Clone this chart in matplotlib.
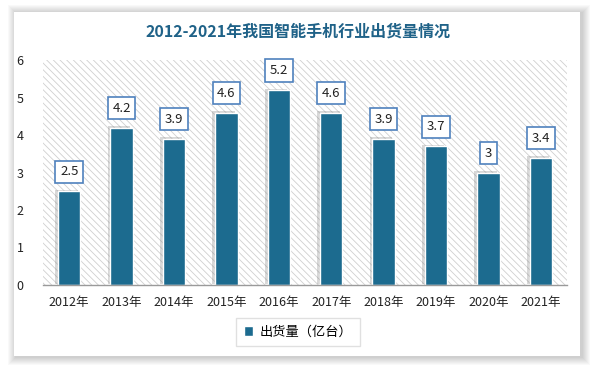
import matplotlib.pyplot as plt
from matplotlib.patches import Rectangle
import matplotlib.patheffects as pe

years = ['2012年', '2013年', '2014年', '2015年', '2016年',
         '2017年', '2018年', '2019年', '2020年', '2021年']
shipments = [2.5, 4.2, 3.9, 4.6, 5.2, 4.6, 3.9, 3.7, 3, 3.4]
labels = ['2.5', '4.2', '3.9', '4.6', '5.2', '4.6', '3.9', '3.7', '3', '3.4']
yticks = [0, 1, 2, 3, 4, 5, 6]

plt.rcParams['font.family'] = ['Noto Sans CJK SC', 'DejaVu Sans']
plt.rcParams['hatch.linewidth'] = 0.6

W, H = 593, 367
fig = plt.figure(figsize=(W / 100, H / 100), dpi=100)
fig.patch.set_facecolor('white')

# card with soft shadow
cx0, cy0, cx1, cy1 = 14, 12, 580, 356
for i in range(8, 0, -1):
    fig.patches.append(Rectangle(((cx0 - i + 2) / W, 1 - (cy1 + i + 1) / H),
                                 (cx1 - cx0 + 2 * i) / W, (cy1 - cy0 + 2 * i) / H,
                                 transform=fig.transFigure, facecolor='#000000',
                                 alpha=0.025, edgecolor='none', zorder=0))
fig.patches.append(Rectangle((cx0 / W, 1 - cy1 / H), (cx1 - cx0) / W, (cy1 - cy0) / H,
                             transform=fig.transFigure, facecolor='white',
                             edgecolor='none', zorder=1))

ax = fig.add_axes([43 / W, 82 / H, 524 / W, 225 / H])
ax.set_zorder(2)
ax.patch.set_alpha(0)
# hatched plot background
ax.add_patch(Rectangle((0, 0), 1, 1, transform=ax.transAxes, facecolor='white',
                       edgecolor='#cfcfcf', hatch='\\\\\\\\\\', linewidth=0, zorder=0))

x = range(len(years))
bars = ax.bar(x, shipments, width=0.43, color='#1c6b8f', edgecolor='white',
              linewidth=1, zorder=3)
for b in bars:
    b.set_path_effects([pe.SimplePatchShadow(offset=(-2, 1), shadow_rgbFace='#808080', alpha=0.3),
                        pe.Normal()])

for xi, v, t in zip(x, shipments, labels):
    ax.annotate(t, (xi, v), xytext=(0, 14), textcoords='offset points',
                ha='center', va='center', fontsize=9.5, color='#222222', zorder=5,
                bbox=dict(boxstyle='square,pad=0.35', facecolor='white',
                          edgecolor='#4f81bd', linewidth=1.2))

ax.set_xlim(-0.5, len(years) - 0.5)
ax.set_ylim(0, 6)
ax.set_yticks(yticks)
ax.set_xticks(list(x))
ax.set_xticklabels(years)
ax.tick_params(axis='both', length=0, labelsize=9, colors='#222222')
ax.tick_params(axis='x', pad=8)
ax.tick_params(axis='y', pad=14)
for s in ['top', 'right', 'left']:
    ax.spines[s].set_visible(False)
ax.spines['bottom'].set_color('#9a9a9a')
ax.spines['bottom'].set_linewidth(1)
ax.spines['bottom'].set_zorder(4)

fig.text(298 / W, 1 - 32 / H, '2012-2021年我国智能手机行业出货量情况', ha='center', va='center',
         fontsize=11.5, fontweight='bold', color='#1f6288', zorder=3)

leg = ax.legend([bars[0]], ['出货量（亿台）'], loc='center',
                bbox_to_anchor=(298 / W, 1 - 332 / H), bbox_transform=fig.transFigure,
                fontsize=9.5, frameon=True, fancybox=False, handlelength=0.7,
                handleheight=0.7, handletextpad=0.5, borderpad=0.55)
leg.get_frame().set_edgecolor('#d9d9d9')
leg.get_frame().set_linewidth(1)
leg.legend_handles[0].set_path_effects([])

fig.savefig('out.png', dpi=100)
